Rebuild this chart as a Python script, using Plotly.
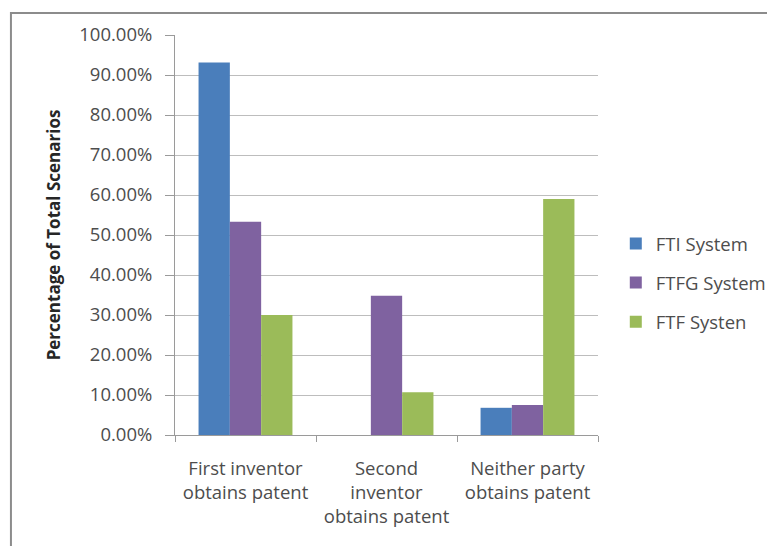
import plotly.graph_objects as go

categories = ["First inventor<br>obtains patent", "Second<br>inventor<br>obtains patent", "Neither party<br>obtains patent"]
series_names = ["FTI System", "FTFG System", "FTF Systen"]
fti_values = [0.931, 0.0, 0.068]
ftfg_values = [0.533, 0.348, 0.075]
ftf_values = [0.300, 0.107, 0.590]
colors = ["#4a7ebb", "#7f62a0", "#9bbb59"]
y_ticks = [i / 10 for i in range(11)]

OFF = 8  # page body offset
W, H = 775, 546
L, R, T, B = 175 - OFF, 603 - OFF, 35 - OFF, 435 - OFF

fig = go.Figure()
for name, vals, col in zip(series_names, [fti_values, ftfg_values, ftf_values], colors):
    fig.add_trace(go.Bar(x=categories, y=vals, name=name, marker=dict(color=col, line=dict(width=0)),
                         legendgroup=name))

def px_x(p):
    return (p - OFF - L) / (R - L)

def px_y(p):
    return (B - (p - OFF)) / (B - T)

FS = 18.5
fig.update_layout(
    width=W, height=H,
    margin=dict(l=L, r=W - R, t=T, b=H - B, pad=0),
    paper_bgcolor="white", plot_bgcolor="white",
    barmode="group", bargap=0.334, bargroupgap=0,
    font=dict(family="Open Sans, sans-serif", color="#4d4d4d"),
    showlegend=True,
    legend=dict(x=px_x(621), y=px_y(283), xanchor="left", yanchor="middle",
                font=dict(size=FS, color="#4d4d4d"), tracegroupgap=12,
                bgcolor="rgba(0,0,0,0)", itemwidth=30),
    xaxis=dict(showline=True, linecolor="#9a9a9a", linewidth=1, ticks="outside",
               tickson="boundaries", ticklen=6, tickcolor="#9a9a9a",
               ticklabelstandoff=17,
               tickfont=dict(size=FS, color="#4d4d4d"), showgrid=False),
    yaxis=dict(range=[0, 1.0], tickvals=y_ticks, tickformat=".2%",
               showline=True, linecolor="#9a9a9a", linewidth=1, ticks="outside",
               ticklen=9, tickcolor="#9a9a9a", showgrid=True, gridcolor="#bdbdbd",
               gridwidth=1, zeroline=False, tickfont=dict(size=FS, color="#4d4d4d"),
               ticklabelstandoff=9,
               title=dict(text="<b>Percentage of Total Scenarios</b>", font=dict(size=17, color="#262626"),
                          standoff=14)),
    shapes=[dict(type="rect", xref="paper", yref="paper",
                 x0=px_x(9), x1=px_x(800), y0=px_y(570), y1=px_y(13),
                 line=dict(color="#8c8c8c", width=2), layer="below")],
)

fig.write_html("out.html")
